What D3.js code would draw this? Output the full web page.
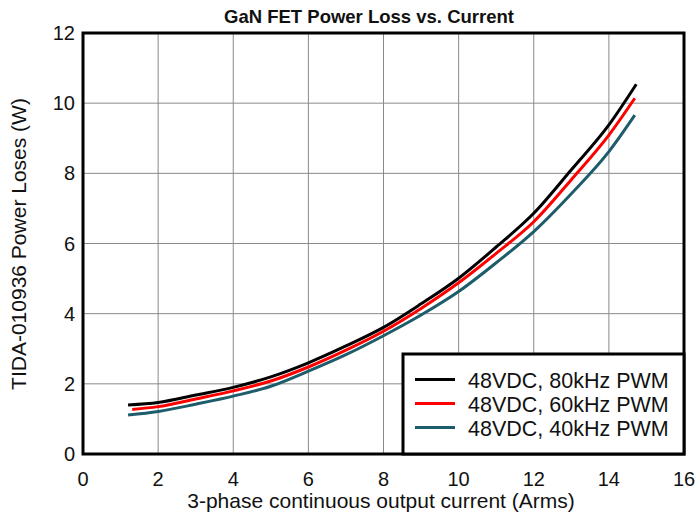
<!DOCTYPE html>
<html lang="en">
<head>
    <meta charset="UTF-8">
    <title>GaN FET Power Loss</title>
    <script src="https://cdn.jsdelivr.net/npm/d3@7"></script>
    <style>
        body { margin: 0; background: #fff; }
        text { font-family: "Liberation Sans", Arial, sans-serif; fill: #111; }
    </style>
</head>
<body>
<script>
    // data
    var current80 = [1.2, 2, 3, 4, 5, 6, 7, 8, 9, 10, 11, 12, 13, 14, 14.73];
    var loss80 = [1.40, 1.47, 1.68, 1.90, 2.20, 2.60, 3.08, 3.61, 4.28, 5.01, 5.90, 6.86, 8.10, 9.38, 10.54];
    var current60 = [1.31, 2, 3, 4, 5, 6, 7, 8, 9, 10, 11, 12, 13, 14, 14.69];
    var loss60 = [1.27, 1.35, 1.57, 1.80, 2.08, 2.48, 2.96, 3.50, 4.15, 4.88, 5.72, 6.62, 7.82, 9.09, 10.14];
    var current40 = [1.2, 2, 3, 4, 5, 6, 7, 8, 9, 10, 11, 12, 13, 14, 14.69];
    var loss40 = [1.11, 1.21, 1.42, 1.65, 1.93, 2.36, 2.83, 3.37, 3.96, 4.63, 5.45, 6.34, 7.42, 8.62, 9.66];
    var seriesNames = ["48VDC, 80kHz PWM", "48VDC, 60kHz PWM", "48VDC, 40kHz PWM"];
    var seriesColors = ["#000000", "#ff0000", "#1d5c6b"];
    var xTicks = [0, 2, 4, 6, 8, 10, 12, 14, 16];
    var yTicks = [0, 2, 4, 6, 8, 10, 12];

    var w = 697, h = 515;
    var plotL = 83, plotR = 684, plotT = 33, plotB = 454;

    var svg = d3.select("body").append("svg")
        .attr("width", w)
        .attr("height", h);

    var x = d3.scaleLinear().domain([0, 16]).range([plotL, plotR]);
    var y = d3.scaleLinear().domain([0, 12]).range([plotB, plotT]);

    // grid
    svg.selectAll("line.vgrid")
        .data(xTicks.slice(1, -1))
        .enter().append("line")
        .attr("x1", function(d) { return x(d) }).attr("x2", function(d) { return x(d) })
        .attr("y1", plotT).attr("y2", plotB)
        .attr("stroke", "#8a8a8a").attr("stroke-width", 1);
    svg.selectAll("line.hgrid")
        .data(yTicks.slice(1, -1))
        .enter().append("line")
        .attr("y1", function(d) { return y(d) }).attr("y2", function(d) { return y(d) })
        .attr("x1", plotL).attr("x2", plotR)
        .attr("stroke", "#8a8a8a").attr("stroke-width", 1);

    // tick labels
    svg.selectAll("text.xt")
        .data(xTicks)
        .enter().append("text")
        .attr("x", function(d) { return x(d) })
        .attr("y", 486)
        .attr("text-anchor", "middle")
        .style("font-size", "20px")
        .text(function(d) { return d });
    svg.selectAll("text.yt")
        .data(yTicks)
        .enter().append("text")
        .attr("x", 75)
        .attr("y", function(d) { return y(d) + 7 })
        .attr("text-anchor", "end")
        .style("font-size", "20px")
        .text(function(d) { return d });

    // curves
    var series = [
        { xs: current80, ys: loss80 },
        { xs: current60, ys: loss60 },
        { xs: current40, ys: loss40 }
    ];
    var line = d3.line()
        .x(function(d) { return x(d[0]) })
        .y(function(d) { return y(d[1]) })
        .curve(d3.curveMonotoneX);
    series.forEach(function(s, i) {
        svg.append("path")
            .datum(s.xs.map(function(v, j) { return [v, s.ys[j]] }))
            .attr("d", line)
            .attr("fill", "none")
            .attr("stroke", seriesColors[i])
            .attr("stroke-width", 3);
    });

    // frame
    svg.append("rect")
        .attr("x", plotL).attr("y", plotT)
        .attr("width", plotR - plotL).attr("height", plotB - plotT)
        .attr("fill", "none").attr("stroke", "#000").attr("stroke-width", 3);

    // legend
    svg.append("rect")
        .attr("x", 403).attr("y", 354)
        .attr("width", plotR - 403).attr("height", plotB - 354)
        .attr("fill", "#fff").attr("stroke", "#000").attr("stroke-width", 3);
    seriesNames.forEach(function(name, i) {
        var ly = 379.5 + i * 24;
        svg.append("line")
            .attr("x1", 415).attr("x2", 455)
            .attr("y1", ly).attr("y2", ly)
            .attr("stroke", seriesColors[i]).attr("stroke-width", 3);
        svg.append("text")
            .attr("x", 468).attr("y", ly + 8.5)
            .style("font-size", "21.5px")
            .text(name);
    });

    // titles
    svg.append("text")
        .attr("x", 369).attr("y", 23)
        .attr("text-anchor", "middle")
        .style("font-size", "18.5px").style("font-weight", "bold")
        .text("GaN FET Power Loss vs. Current");
    svg.append("text")
        .attr("x", 381).attr("y", 508)
        .attr("text-anchor", "middle")
        .style("font-size", "21px")
        .text("3-phase continuous output current (Arms)");
    svg.append("text")
        .attr("transform", "translate(26,244) rotate(-90)")
        .attr("text-anchor", "middle")
        .style("font-size", "21px")
        .text("TIDA-010936 Power Loses (W)");
</script>
</body>
</html>
